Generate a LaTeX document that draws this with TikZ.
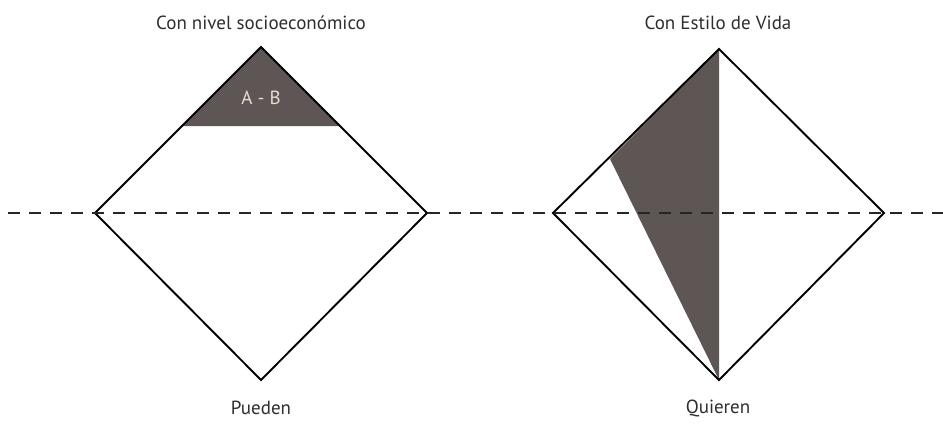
\documentclass[tikz,border=0pt]{standalone}
\usepackage{fontspec}
\setmainfont{PT Sans}
\usetikzlibrary{calc}
\definecolor{darkfill}{HTML}{5D5654}
\definecolor{txt}{HTML}{2E2E2E}
\definecolor{lbl}{HTML}{E6DCD2}
\begin{document}
\begin{tikzpicture}[x=1pt,y=-1pt,
  diam/.style={draw=black,line width=1.9pt,line join=miter},
  dashline/.style={draw=black!85,line width=2.2pt,dash pattern=on 12pt off 9pt},
  title/.style={font=\fontsize{19}{22}\selectfont,text=txt,inner sep=0pt}]
\useasboundingbox (0,0) rectangle (943,439);
% left diamond
\coordinate (lt) at (261,47);
\coordinate (ll) at (95,213);
\coordinate (lr) at (427,213);
\coordinate (lb) at (261,380);
\fill[darkfill] (lt) -- (182,126) -- (340,126) -- cycle;
\draw[diam] (lt) -- (ll) -- (lb) -- (lr) -- cycle;
% right diamond
\coordinate (rt) at (719,49);
\coordinate (rl) at (553,213);
\coordinate (rr) at (884,213);
\coordinate (rb) at (719,380);
\coordinate (rc) at (610,159);
\fill[darkfill] (rt) -- (rc) -- (rb) -- cycle;
\draw[diam] (rt) -- (rl) -- (rb) -- (rr) -- cycle;
% dashed line
\coordinate (d0) at (8,213);
\coordinate (d1) at (943,213);
\draw[dashline] (d0) -- (d1);
% texts
\node[title] (t1) at (261,23) {Con nivel socioeconómico};
\node[title] (t2) at (718,23) {Con Estilo de Vida};
\node[title,text=lbl] (ab) at (261,98) {A - B};
\node[title] (b1) at (261,408) {Pueden};
\node[title] (b2) at (718,408) {Quieren};
\end{tikzpicture}
\end{document}
